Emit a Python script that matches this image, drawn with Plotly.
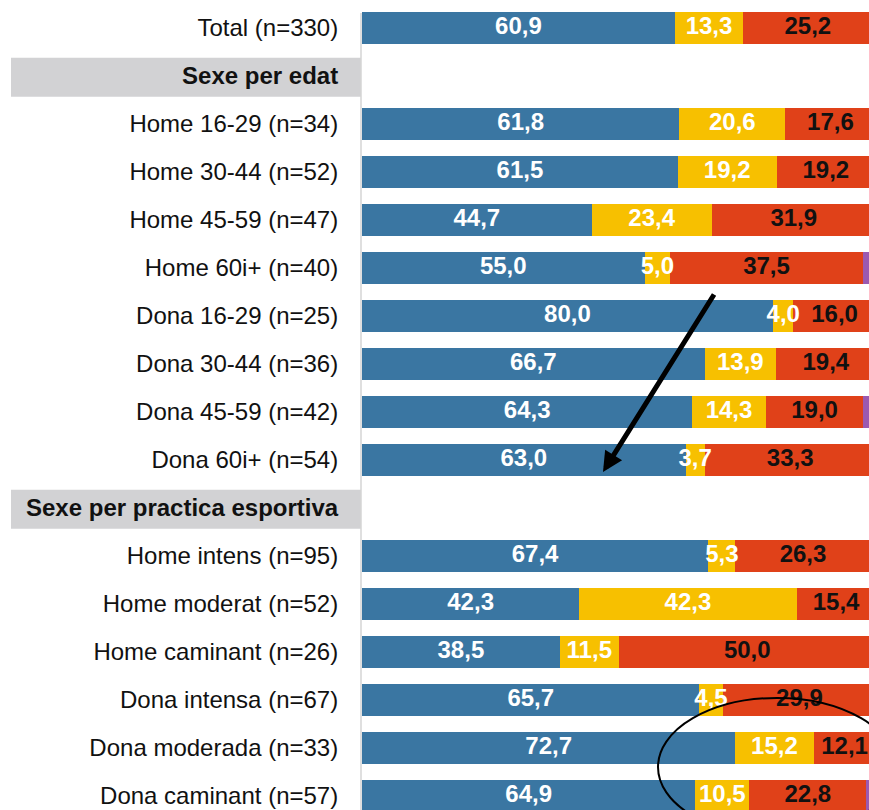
import plotly.graph_objects as go

# ---- data ----
categories = [
    "Total (n=330)",
    "Sexe per edat",
    "Home 16-29 (n=34)",
    "Home 30-44 (n=52)",
    "Home 45-59 (n=47)",
    "Home 60i+ (n=40)",
    "Dona 16-29 (n=25)",
    "Dona 30-44 (n=36)",
    "Dona 45-59 (n=42)",
    "Dona 60i+ (n=54)",
    "Sexe per practica esportiva",
    "Home intens (n=95)",
    "Home moderat (n=52)",
    "Home caminant (n=26)",
    "Dona intensa (n=67)",
    "Dona moderada (n=33)",
    "Dona caminant (n=57)",
]
headers = ["Sexe per edat", "Sexe per practica esportiva"]

serie_blau = [60.9, None, 61.8, 61.5, 44.7, 55.0, 80.0, 66.7, 64.3, 63.0, None, 67.4, 42.3, 38.5, 65.7, 72.7, 64.9]
serie_groc = [13.3, None, 20.6, 19.2, 23.4, 5.0, 4.0, 13.9, 14.3, 3.7, None, 5.3, 42.3, 11.5, 4.5, 15.2, 10.5]
serie_vermell = [25.2, None, 17.6, 19.2, 31.9, 37.5, 16.0, 19.4, 19.0, 33.3, None, 26.3, 15.4, 50.0, 29.9, 12.1, 22.8]
serie_lila = [0.6, None, 0.0, 0.1, 0.0, 2.5, 0.0, 0.0, 2.4, 0.0, None, 1.0, 0.0, 0.0, 0.0, 0.0, 1.8]

# ---- layout constants ----
W, H = 869, 810
L = 362
Y_BOTTOM, Y_TOP = 16.29, -0.583
FONT = "Liberation Sans, Arial, sans-serif"
FS = 24

rows = list(range(len(categories)))
ticktext = [f"<b>{c}</b>" if c in headers else c for c in categories]

fig = go.Figure()

series = [
    (serie_blau, "#3A76A2", "white", True),
    (serie_groc, "#F7C000", "white", True),
    (serie_vermell, "#E04119", "#111111", True),
    (serie_lila, "#9B59B0", "white", False),
]

for vals, color, _, _ in series:
    fig.add_trace(go.Bar(
        y=rows, x=vals, orientation="h",
        marker=dict(color=color, line=dict(width=0)),
        width=0.667,
        hoverinfo="skip",
        showlegend=False,
    ))

# value labels, centred on each segment (drawn above all bars)
base = [0.0 if v is not None else None for v in serie_blau]
for vals, _, tcolor, show in series:
    xs, ys, ts = [], [], []
    for i, v in enumerate(vals):
        if v is None:
            continue
        if show:
            xs.append(base[i] + v / 2)
            ys.append(i)
            ts.append(f"{v:.1f}".replace(".", ","))
        base[i] += v
    if show:
        fig.add_trace(go.Scatter(
            x=xs, y=ys, text=ts, mode="text",
            textposition="middle center",
            textfont=dict(family=FONT, size=FS, color=tcolor, weight="bold"),
            cliponaxis=False, hoverinfo="skip", showlegend=False,
        ))

def ypaper(r):
    return (Y_BOTTOM - r) / (Y_BOTTOM - Y_TOP)

shapes = []
# gray header boxes
for h in headers:
    r = categories.index(h)
    shapes.append(dict(type="rect", xref="paper", yref="paper",
                       x0=(11 - L) / (W - L), x1=(361 - L) / (W - L),
                       y0=ypaper(r + 0.43), y1=ypaper(r - 0.38),
                       fillcolor="#D2D2D4", line=dict(width=0), layer="below"))
# vertical axis line
shapes.append(dict(type="line", xref="paper", yref="paper",
                   x0=(361 - L) / (W - L), x1=(361 - L) / (W - L),
                   y0=0, y1=1 - 13 / H,
                   line=dict(color="#D4D4D4", width=1.5), layer="above"))
# ellipse
shapes.append(dict(type="circle", xref="paper", yref="paper",
                   x0=(658 - L) / (W - L), x1=(896 - L) / (W - L),
                   y0=1 - 836 / H, y1=1 - 698 / H,
                   line=dict(color="black", width=2), fillcolor="rgba(0,0,0,0)",
                   layer="above"))

annotations = [dict(
    xref="paper", yref="paper",
    x=(603 - L) / (W - L), y=1 - 472 / H,
    ax=112, ay=-179, axref="pixel", ayref="pixel",
    showarrow=True, arrowhead=2, arrowsize=0.8, arrowwidth=5,
    arrowcolor="black", text="",
)]

fig.update_layout(
    width=W, height=H,
    margin=dict(l=L, r=0, t=0, b=0, pad=0),
    paper_bgcolor="white", plot_bgcolor="white",
    barmode="stack",
    bargap=0.33,
    showlegend=False,
    shapes=shapes,
    annotations=annotations,
    font=dict(family=FONT, size=FS, color="#111111"),
    xaxis=dict(range=[0, 98.7], visible=False, fixedrange=True),
    yaxis=dict(
        range=[Y_BOTTOM, Y_TOP],
        tickmode="array", tickvals=rows, ticktext=ticktext,
        showgrid=False, zeroline=False, showline=False,
        ticks="outside", ticklen=18, tickcolor="rgba(0,0,0,0)",
        tickfont=dict(family=FONT, size=FS, color="#111111"),
        fixedrange=True,
    ),
)

fig.write_html("out.html", config={"displayModeBar": False},
               post_script="document.body.style.margin='0';document.body.style.overflow='hidden';")
